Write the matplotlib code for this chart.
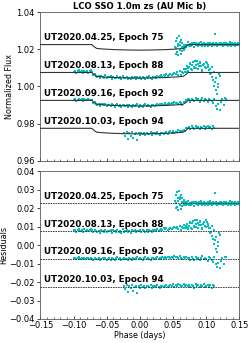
import numpy as np
import matplotlib
matplotlib.use('Agg')
import matplotlib.pyplot as plt
from matplotlib.ticker import MultipleLocator

# nights, baseline of each light curve, and offset of its residuals
labels = ['UT2020.04.25, Epoch 75', 'UT2020.08.13, Epoch 88',
          'UT2020.09.16, Epoch 92', 'UT2020.10.03, Epoch 94']
baselines = [1.0225, 1.0075, 0.9925, 0.9775]
offsets = [0.0225, 0.0075, -0.0075, -0.0225]

# transit model (phase in days, flux drop)
model_phase = [-0.15, -0.0725, -0.069, -0.065, -0.055, -0.04, -0.02, 0.0,
               0.02, 0.04, 0.055, 0.065, 0.069, 0.0725, 0.15]
model_depth = [0, 0, -0.0012, -0.0021, -0.0024, -0.0027, -0.0029, -0.0030,
               -0.0029, -0.0027, -0.0024, -0.0021, -0.0012, 0, 0]

# phases in units of 1e-3 days, residuals in units of 1e-4
ph75 = [53, 54, 54, 55, 56, 56, 57, 58, 58, 59, 60, 60, 61, 62, 62, 63, 64, 64, 65, 66, 66,
        67, 68, 69, 70, 71, 72, 73, 74, 75, 76, 77, 78, 79, 80, 81, 82, 83, 84, 85, 86,
        87, 88, 89, 90, 91, 92, 93, 94, 95, 96, 97, 98, 99, 100, 101, 102, 103, 104, 105,
        106, 107, 108, 109, 110, 111, 112, 113, 114, 115, 116, 117, 118, 119, 120, 121, 122,
        123, 124, 125, 126, 127, 128, 129, 130, 131, 132, 133, 134, 135, 136, 137, 138, 139,
        140, 141, 142, 143, 144, 145, 146, 147, 148, 149, 150]
res75 = [12, -25, 45, 5, 60, -18, 28, -35, 15, 70, -8, 35, 22, -30, 48, 10, -15, 30, 2, 18, -10,
         6, -4, 9, -7, 3, -2, 12, -9, 5, 1, -6, 8, -3, 4, -11, 7, 2, -5, 10, -1,
         3, -8, 6, 0, -4, 14, -6, 2, 5, -3, 9, -7, 1, 4, -2, -10, 7, 3, -5, 11,
         0, -6, 4, 8, -3, 2, 55, -4, 6, -9, 3, 1, -2, 7, -5, 10, -1, 4, -7, 2,
         6, -3, 9, 0, -4, 5, -8, 3, 12, -2, 1, -6, 7, 4, -3, 2, -9, 6, 0, 5, -4, 8, -1, 3]

ph88 = [-100, -98, -96, -94, -92, -90, -88, -86, -84, -82, -80, -78, -76, -74, -72, -70, -68,
        -66, -64, -62, -60, -58, -56, -54, -52, -50, -48, -46, -44, -42, -40, -38, -36, -34,
        -32, -30, -28, -26, -24, -22, -20, -18, -16, -14, -12, -10, -8, -6, -4, -2, 0, 2, 4,
        6, 8, 10, 12, 14, 16, 18, 20, 22, 24, 26, 28, 30, 32, 34, 36, 38, 40, 42, 44, 46, 48,
        50, 52, 54, 56, 58, 60, 62, 64, 66, 68, 70, 72, 74, 76, 78, 80, 82, 84, 86, 88, 90,
        92, 94, 96, 98, 100, 102, 104, 106, 108, 110, 112, 114, 116, 118, 120,
        65, 67, 69, 71, 73, 75, 77, 79, 81, 83, 85, 87, 89, 91, 93, 95, 97, 99, 101, 103,
        105, 107, 109, 111, 113, 115, 117, 119]
res88 = [5, 9, -2, 6, 12, 1, 7, -4, 10, 3, 8, -1, 6, 11,
         4, -3, 6, 2,
         -5, 3, -8, 6, 1, -3, 9, -6, 2, -1, 5, -9, 4, 0, -4, 7, -2, 3, -7, 10,
         -3, 1, 6, -5, 2, -8, 4, 0, 7, -4, 3, -1, 5, -6, 8, 2, -3, 6, -2, 9,
         1, -5, 4, 7, 0, 10, 3,
         8, 12, 5, 15, 10, 18, 9, 14, 20, 11, 16, 22,
         18, 25, 12, 30, 8, 22, 35, 15, 28, 10,
         30, 45, 12, 55, 25, 40, 60, 20, 50, 35, 15, 48, 28, 58,
         40, 15, -10, 30, -40, -70, -95, -115, -60, -20,
         20, 35, 15, 40, 25, 50, 18, 42, 30, 62, 22, 45, 35, 55, 10, 38, 48, 25, 52, 30,
         20, -5, -25, 5, -50, -30, -80, -10]

ph92 = [-100, -98, -96, -94, -92, -90, -88, -86, -84, -82, -80, -78, -76, -74, -72, -70, -68,
        -66, -64, -62, -60, -58, -56, -54, -52, -50, -48, -46, -44, -42, -40, -38, -36, -34,
        -32, -30, -28, -26, -24, -22, -20, -18, -16, -14, -12, -10, -8, -6, -4, -2, 0, 2, 4,
        6, 8, 10, 12, 14, 16, 18, 20, 22, 24, 26, 28, 30, 32, 34, 36, 38, 40, 42, 44, 46, 48,
        50, 52, 54, 56, 58, 60, 62, 64, 66, 68, 70, 72, 74, 76, 78, 80, 82, 84, 86, 88, 90,
        92, 94, 96, 98, 100, 102, 104, 106, 108, 110, 112, 114, 116, 118, 120, 122, 124, 126,
        128, 130]
res92 = [3, 6, -1, 4, 8, 2, 5, -2, 7, 1, 4, 6, 0, 3,
         2, -4, 5, 1,
         -3, 4, -6, 2, 5, -2, 7, -5, 1, 3, -4, 6, 0, -7, 3, 8, -2, 4, -5, 1,
         6, -3, 2, -6, 5, 0, -4, 7, -1, 3, 9, -3, 5, 2, -6, 4, 8, -2, 6, 1,
         -4, 7, 3, -1, 5, 10, 2,
         6, 2, 9, 4, 11, 3, 8, 12, 5, 10, 7, 14,
         8, 12, 3, 15, 6, -2, 10, 4, 13, 7,
         5, -6, 9, 2, -4, 12, 0, 7, -8, 4, 15, -3, 6, 1, -10, 8, 3, -5,
         -15, 10, -30, -45, -20, -50, -10, 5, -25, 12, 8]

ph94 = [-24, -22, -20, -18, -16, -14, -12, -10, -8, -6, -4, -2, 0, 2, 4, 6, 8, 10, 12, 14, 16,
        18, 20, 22, 24, 26, 28, 30, 32, 34, 36, 38, 40, 42, 44, 46, 48, 50, 52, 54, 56, 58,
        60, 62, 64, 66, 68, 70, 72, 74, 76, 78, 80, 82, 84, 86, 88, 90, 92, 94, 96, 98, 100,
        102, 104, 106, 108, 110, 112]
res94 = [5, -15, 8, -28, 3, -10, 10, -22, 0, 6, -32, 4,
         -5, 7, -2, 3, -9, 5, 1, -4, 8, -6, 2, 6, -3, 9, 0, -7, 4, 1, -2,
         3, 8, -4, 6, 10, 2, 12, -3, 7, 5, 14, 9, 4,
         6, 12, 2, 9, 5,
         8, -2, 10, 4, -6, 12, 3, 7, -4, 9, 1, 14, -3, 6, 11, 0, 8, -5, 10, 4]

phases = [ph75, ph88, ph92, ph94]
resids = [res75, res88, res92, res94]

fig = plt.figure(figsize=(2.51, 3.43), dpi=100)
ax1 = fig.add_axes([0.161, 0.531, 0.793, 0.434])
ax2 = fig.add_axes([0.161, 0.070, 0.793, 0.431])

for lab, base, off, ph, rs in zip(labels, baselines, offsets, phases, resids):
    ph = np.array(ph) * 1e-3
    rs = np.array(rs) * 1e-4
    flux = base + np.interp(ph, model_phase, model_depth) + rs
    ax1.scatter(ph, flux, s=1.6, marker='s', color='c', linewidths=0, zorder=2)
    ax1.plot(model_phase, np.array(model_depth) + base, color='0.2', lw=0.8, zorder=3)
    ax1.text(-0.145, base + 0.0023, lab, fontsize=6.3, fontweight='bold', va='baseline')
    ax2.scatter(ph, rs + off, s=1.6, marker='s', color='c', linewidths=0, zorder=2)
    ax2.axhline(off, color='0.15', lw=0.6, ls=(0, (2, 1)), zorder=3)
    ax2.text(-0.145, off + 0.0025, lab, fontsize=6.3, fontweight='bold', va='baseline')

for ax in (ax1, ax2):
    ax.set_xlim(-0.15, 0.15)
    ax.xaxis.set_major_locator(MultipleLocator(0.05))
    ax.xaxis.set_minor_locator(MultipleLocator(0.01))
    ax.tick_params(labelsize=6, length=2.5, width=0.5, pad=1.5)
    ax.tick_params(axis='x', direction='in', pad=1.5)
    ax.tick_params(which='minor', direction='in', length=1.5, width=0.4)
    for sp in ax.spines.values():
        sp.set_linewidth(0.6)
        sp.set_color('0.35')

ax1.set_ylim(0.96, 1.04)
ax1.set_yticks([0.96, 0.98, 1.00, 1.02, 1.04])
ax1.tick_params(labelbottom=False)
ax1.set_ylabel('Normalized Flux', fontsize=5.8, labelpad=1.5)
ax1.set_title('LCO SSO 1.0m zs (AU Mic b)', fontsize=6.1, fontweight='bold', pad=2)

ax2.set_ylim(-0.04, 0.04)
ax2.set_yticks([-0.04, -0.03, -0.02, -0.01, 0.0, 0.01, 0.02, 0.03, 0.04])
ax2.set_ylabel('Residuals', fontsize=5.8, labelpad=0.5)
ax2.set_xlabel('Phase (days)', fontsize=5.8, labelpad=0.5)

fig.savefig('out.png', dpi=100)
